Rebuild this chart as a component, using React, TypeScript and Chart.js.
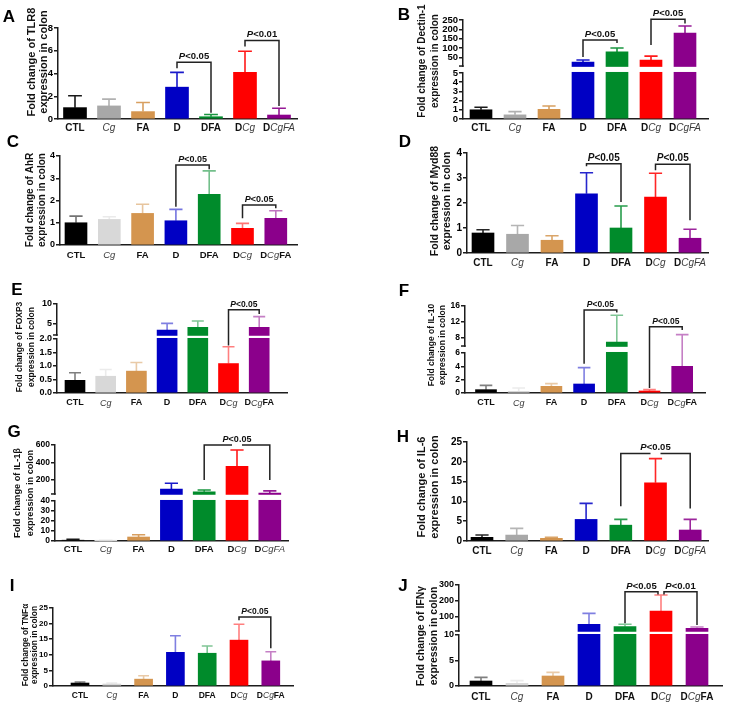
import React, { useEffect, useRef } from 'react';
import { Chart, registerables, LinearScale } from 'chart.js';

Chart.register(...registerables);

// A value scale that may be broken into several linear segments.
class BrokenScale extends LinearScale {
  static id = 'broken';
  static defaults = {};
  determineDataLimits() {
    const segs = (this as any).options.segments as number[][];
    (this as any).min = segs[0][0];
    (this as any).max = segs[segs.length - 1][1];
  }
  buildTicks() {
    return ((this as any).options.tickValues as number[]).map((v) => ({ value: v }));
  }
  getPixelForValue(value: number) {
    const segs = (this as any).options.segments as number[][];
    let s = segs[segs.length - 1];
    for (const sg of segs) {
      if (value <= sg[1]) { s = sg; break; }
    }
    const frac = s[2] + ((value - s[0]) / (s[1] - s[0])) * (s[3] - s[2]);
    const self = this as any;
    return self.bottom - frac * (self.bottom - self.top);
  }
  getValueForPixel(pixel: number) {
    const self = this as any;
    const segs = self.options.segments as number[][];
    const frac = (self.bottom - pixel) / (self.bottom - self.top);
    let s = segs[segs.length - 1];
    for (const sg of segs) {
      if (frac <= sg[3]) { s = sg; break; }
    }
    return s[0] + ((frac - s[2]) / (s[3] - s[2])) * (s[1] - s[0]);
  }
}
Chart.register(BrokenScale as any);

const FONT = "'Liberation Sans', Arial, Helvetica, sans-serif";
const AXIS = '#1c1c1c';

// ---------- categories ----------
const catsItalicTail = ['CTL', '*Cg*', 'FA', 'D', 'DFA', 'D*Cg*', 'D*CgFA*'];
const catsBoldTail = ['CTL', '*Cg*', 'FA', 'D', 'DFA', 'D*Cg*', 'D*Cg*FA'];

// ---------- A: TLR8 ----------
const tlr8Title = ['Fold change of TLR8', 'expression in colon'];
const tlr8Mean = [1.0, 1.15, 0.65, 2.8, 0.2, 4.1, 0.35];
const tlr8Sd = [1.05, 0.6, 0.8, 1.3, 0.2, 1.85, 0.6];
const tlr8Ticks = [0, 2, 4, 6, 8];
const tlr8Brackets = [
  { from: 3, to: 4, y: 5.0, legL: 4.47, legR: 0.56, text: '*P*<0.05' },
  { from: 5, to: 6, y: 6.91, legL: 6.38, legR: 1.15, text: '*P*<0.01' },
];

// ---------- B: Dectin-1 ----------
const dectinTitle = ['Fold change of Dectin-1', 'expression in colon'];
const dectinMean = [1.0, 0.45, 1.05, 26, 80, 37, 181];
const dectinSd = [0.28, 0.35, 0.36, 11, 21, 21, 37];
const dectinTicks = [0, 1, 2, 3, 4, 5, 50, 100, 150, 200, 250];
const dectinBrackets = [
  { from: 3, to: 4, y: 143, legL: 53, legR: 127, text: '*P*<0.05' },
  { from: 5, to: 6, y: 254, legL: 117, legR: 232, text: '*P*<0.05' },
];

// ---------- C: AhR ----------
const ahrTitle = ['Fold change of AhR', 'expression in colon'];
const ahrMean = [1.0, 1.15, 1.42, 1.09, 2.28, 0.75, 1.2];
const ahrSd = [0.3, 0.12, 0.41, 0.51, 1.05, 0.22, 0.34];
const ahrTicks = [0, 1, 2, 3, 4];
const ahrBrackets = [
  { from: 3, to: 4, y: 3.6, legL: 1.72, legR: 3.4, text: '*P*<0.05' },
  { from: 5, to: 6, y: 1.8, legL: 1.2, legR: 1.65, text: '*P*<0.05' },
];

// ---------- D: Myd88 ----------
const myd88Title = ['Fold change of Myd88', 'expression in colon'];
const myd88Mean = [0.8, 0.75, 0.51, 2.37, 1.0, 2.24, 0.59];
const myd88Sd = [0.13, 0.35, 0.18, 0.84, 0.88, 0.95, 0.36];
const myd88Ticks = [0, 1, 2, 3, 4];
const myd88Brackets = [
  { from: 3, to: 4, y: 3.57, legL: 3.47, legR: 2.04, text: '*P*<0.05' },
  { from: 5, to: 6, y: 3.55, legL: 3.31, legR: 1.31, text: '*P*<0.05' },
];

// ---------- E: FOXP3 ----------
const foxp3Title = ['Fold change of FOXP3', 'expression in colon'];
const foxp3Mean = [0.47, 0.62, 0.81, 3.25, 3.95, 1.09, 3.95];
const foxp3Sd = [0.28, 0.25, 0.32, 1.75, 1.65, 0.62, 2.8];
const foxp3Ticks = [0, 0.5, 1, 1.5, 2, 5, 10];
const foxp3TickLabels = ['0.0', '0.5', '1.0', '1.5', '2.0', '5', '10'];
const foxp3Brackets = [
  { from: 5, to: 6, y: 8.5, legL: 1.76, legR: 7.4, text: '*P*<0.05' },
];

// ---------- F: IL-10 ----------
const il10Title = ['Fold change of IL-10', 'expression in colon'];
const il10Mean = [0.5, 0.25, 1.0, 1.35, 7.0, 0.3, 4.0];
const il10Sd = [0.65, 0.5, 0.4, 2.45, 6.7, 0.2, 4.85];
const il10Ticks = [0, 2, 4, 6, 8, 12, 16];
const il10Brackets = [
  { from: 3, to: 4, y: 15.0, legL: 4.4, legR: 14.4, text: '*P*<0.05' },
  { from: 5, to: 6, y: 10.8, legL: 0.75, legR: 10.0, text: '*P*<0.05' },
];

// ---------- G: IL-1β ----------
const il1bTitle = ['Fold change of IL-1β', 'expression in colon'];
const il1bMean = [0.8, 0.3, 4.0, 95, 65, 355, 50];
const il1bSd = [0.9, 0.2, 2.3, 68, 21, 188, 25];
const il1bTicks = [0, 10, 20, 30, 40, 200, 400, 600];
const il1bBrackets = [
  { from: 4, to: 6, y: 600, legL: 200, legR: 200, text: '*P*<0.05', textAt: 5, gapAt: 5 },
];

// ---------- H: IL-6 ----------
const il6Title = ['Fold change of IL-6', 'expression in colon'];
const il6Mean = [0.92, 1.5, 0.67, 5.45, 4.0, 14.7, 2.77];
const il6Sd = [0.58, 1.7, 0.25, 4.05, 1.45, 6.1, 2.68];
const il6Ticks = [0, 5, 10, 15, 20, 25];
const il6Brackets = [
  { from: 4, to: 6, y: 22.1, legL: 8.8, legR: 8.2, text: '*P*<0.05', textAt: 5, gapAt: 5 },
];

// ---------- I: TNFα ----------
const tnfTitle = ['Fold change of TNFα', 'expression in colon'];
const tnfMean = [0.95, 0.64, 2.2, 10.8, 10.5, 14.7, 8.05];
const tnfSd = [0.32, 0.31, 1.1, 5.3, 2.3, 5.1, 2.95];
const tnfTicks = [0, 5, 10, 15, 20, 25];
const tnfBrackets = [
  { from: 5, to: 6, y: 22.1, legL: 21.1, legR: 12.1, text: '*P*<0.05' },
];

// ---------- J: IFNγ ----------
const ifngTitle = ['Fold change of IFNγ', 'expression in colon'];
const ifngMean = [0.98, 0.52, 1.96, 52, 37, 136, 26];
const ifngSd = [0.72, 0.53, 0.72, 69, 15, 101, 9];
const ifngTicks = [0, 5, 10, 100, 200, 300];
const ifngBrackets = [
  { from: 4, to: 5, y: 258, legL: 58, legR: 240, text: '*P*<0.05', inR: 3 },
  { from: 5, to: 6, y: 258, legL: 240, legR: 48, text: '*P*<0.01', inL: 3 },
];

// ---------- styles ----------
const barColorsDark = ['#000000', '#a8a8a8', '#d4954f', '#0000c4', '#008b2b', '#ff0000', '#8b008b'];
const barColorsLight = ['#000000', '#d8d8d8', '#d4954f', '#0000c4', '#008b2b', '#ff0000', '#8b008b'];

type Bracket = {
  from: number; to: number; y: number; legL: number; legR: number; text: string;
  textAt?: number; gapAt?: number; inL?: number; inR?: number;
};
type Panel = {
  letter: string; lx: number; ly: number;
  box: number[];
  axisX: number; axisR: number; c0: number; step: number; top: number; bottom: number;
  barW: number; labelY: number;
  title: string[]; titleX: number[]; titleY: number; titleSize: number;
  tickSize: number; catSize: number; pSize: number;
  cats: string[]; mean: number[]; sd: number[];
  ticks: number[]; tickLabels?: string[];
  segs: number[][];
  colors: string[]; errAlpha: number;
  brackets: Bracket[];
};

const L = 0, R = 362, LW = 362, RW = 367;

const panels: Panel[] = [
  { letter: 'A', lx: 9, ly: 16, box: [L, 0, LW, 136], axisX: 58, axisR: 297, c0: 75, step: 34, top: 28, bottom: 119, barW: 23, labelY: 128,
    title: tlr8Title, titleX: [32, 44], titleY: 62, titleSize: 11, tickSize: 9.5, catSize: 10, pSize: 9.5,
    cats: catsItalicTail, mean: tlr8Mean, sd: tlr8Sd, ticks: tlr8Ticks, segs: [[0, 8, 0, 1]], colors: barColorsDark, errAlpha: 0.9, brackets: tlr8Brackets },
  { letter: 'B', lx: 404, ly: 14, box: [R, 0, RW, 136], axisX: 463, axisR: 708, c0: 481, step: 34, top: 20, bottom: 119, barW: 22, labelY: 128,
    title: dectinTitle, titleX: [422, 435], titleY: 61, titleSize: 10, tickSize: 9.5, catSize: 10, pSize: 9.5,
    cats: catsItalicTail, mean: dectinMean, sd: dectinSd, ticks: dectinTicks, segs: [[0, 5, 0, 0.465], [5, 250, 0.535, 1]], colors: barColorsDark, errAlpha: 0.9, brackets: dectinBrackets },
  { letter: 'C', lx: 13, ly: 141, box: [L, 136, LW, 136], axisX: 60, axisR: 297, c0: 76, step: 33.3, top: 156, bottom: 245, barW: 22, labelY: 255,
    title: ahrTitle, titleX: [30, 42], titleY: 200, titleSize: 10, tickSize: 9, catSize: 9.5, pSize: 9,
    cats: catsBoldTail, mean: ahrMean, sd: ahrSd, ticks: ahrTicks, segs: [[0, 4, 0, 1]], colors: barColorsLight, errAlpha: 0.55, brackets: ahrBrackets },
  { letter: 'D', lx: 405, ly: 141, box: [R, 136, RW, 136], axisX: 467, axisR: 708, c0: 483, step: 34.5, top: 153, bottom: 253, barW: 22, labelY: 263,
    title: myd88Title, titleX: [435, 447], titleY: 201, titleSize: 10.5, tickSize: 10, catSize: 10, pSize: 10,
    cats: catsItalicTail, mean: myd88Mean, sd: myd88Sd, ticks: myd88Ticks, segs: [[0, 4, 0, 1]], colors: barColorsDark, errAlpha: 0.85, brackets: myd88Brackets },
  { letter: 'E', lx: 17, ly: 289, box: [L, 272, LW, 144], axisX: 57, axisR: 287, c0: 75, step: 30.7, top: 304, bottom: 393, barW: 20, labelY: 403,
    title: foxp3Title, titleX: [20, 32], titleY: 347, titleSize: 8.5, tickSize: 9, catSize: 9, pSize: 8.5,
    cats: catsBoldTail, mean: foxp3Mean, sd: foxp3Sd, ticks: foxp3Ticks, tickLabels: foxp3TickLabels, segs: [[0, 2, 0, 0.607], [2, 10, 0.652, 1]], colors: barColorsLight, errAlpha: 0.5, brackets: foxp3Brackets },
  { letter: 'F', lx: 404, ly: 290, box: [R, 272, RW, 144], axisX: 465, axisR: 705, c0: 486, step: 32.7, top: 306, bottom: 393, barW: 21, labelY: 403,
    title: il10Title, titleX: [432, 443], titleY: 345, titleSize: 8.5, tickSize: 8.5, catSize: 9, pSize: 8.5,
    cats: catsBoldTail, mean: il10Mean, sd: il10Sd, ticks: il10Ticks, segs: [[0, 6, 0, 0.46], [6, 16, 0.54, 1]], colors: barColorsLight, errAlpha: 0.5, brackets: il10Brackets },
  { letter: 'G', lx: 14, ly: 431, box: [L, 416, LW, 146], axisX: 55, axisR: 288, c0: 73, step: 32.8, top: 445, bottom: 541, barW: 22, labelY: 549,
    title: il1bTitle, titleX: [17, 30], titleY: 493, titleSize: 9.2, tickSize: 8.5, catSize: 9.5, pSize: 9,
    cats: catsItalicTail, mean: il1bMean, sd: il1bSd, ticks: il1bTicks, segs: [[0, 40, 0, 0.417], [40, 600, 0.49, 1]], colors: barColorsLight, errAlpha: 0.9, brackets: il1bBrackets },
  { letter: 'H', lx: 403, ly: 436, box: [R, 416, RW, 146], axisX: 467, axisR: 708, c0: 482, step: 34.7, top: 442, bottom: 541, barW: 22, labelY: 551,
    title: il6Title, titleX: [422, 435], titleY: 487, titleSize: 11, tickSize: 10, catSize: 10, pSize: 9.5,
    cats: catsItalicTail, mean: il6Mean, sd: il6Sd, ticks: il6Ticks, segs: [[0, 25, 0, 1]], colors: barColorsDark, errAlpha: 0.85, brackets: il6Brackets },
  { letter: 'I', lx: 12, ly: 585, box: [L, 562, LW, 149], axisX: 53, axisR: 293, c0: 80, step: 31.8, top: 608, bottom: 686, barW: 18, labelY: 696,
    title: tnfTitle, titleX: [26, 35], titleY: 645, titleSize: 8.3, tickSize: 8, catSize: 8.5, pSize: 8.5,
    cats: catsBoldTail, mean: tnfMean, sd: tnfSd, ticks: tnfTicks, segs: [[0, 25, 0, 1]], colors: barColorsLight, errAlpha: 0.5, brackets: tnfBrackets },
  { letter: 'J', lx: 403, ly: 585, box: [R, 562, RW, 149], axisX: 459, axisR: 722, c0: 481, step: 36, top: 585, bottom: 686, barW: 22, labelY: 697,
    title: ifngTitle, titleX: [421, 434], titleY: 636, titleSize: 10.5, tickSize: 9, catSize: 10, pSize: 9.5,
    cats: catsBoldTail, mean: ifngMean, sd: ifngSd, ticks: ifngTicks, segs: [[0, 10, 0, 0.505], [10, 300, 0.545, 1]], colors: barColorsLight, errAlpha: 0.5, brackets: ifngBrackets },
];

function toRgba(hex: string, a: number) {
  const n = parseInt(hex.slice(1), 16);
  return `rgba(${(n >> 16) & 255},${(n >> 8) & 255},${n & 255},${a})`;
}

function runs(label: string) {
  return label.split('*').map((t, i) => ({ t, it: i % 2 === 1 })).filter((r) => r.t.length > 0);
}

function drawRuns(ctx: CanvasRenderingContext2D, label: string, x: number, y: number, size: number, italicBold: boolean) {
  const parts = runs(label);
  const fontOf = (it: boolean) => (it ? `${italicBold ? 'bold ' : ''}italic ${size}px ${FONT}` : `bold ${size}px ${FONT}`);
  const widths = parts.map((r) => { ctx.font = fontOf(r.it); return ctx.measureText(r.t).width; });
  const total = widths.reduce((a, b) => a + b, 0);
  let cx = x - total / 2;
  ctx.textAlign = 'left';
  parts.forEach((r, k) => {
    ctx.font = fontOf(r.it);
    ctx.fillStyle = r.it && !italicBold ? '#3c3c3c' : '#111';
    ctx.fillText(r.t, cx, y);
    cx += widths[k];
  });
}

function decoPlugin(p: Panel) {
  return {
    id: 'panelDeco',
    afterDraw(chart: any) {
      const ctx: CanvasRenderingContext2D = chart.ctx;
      const ys = chart.scales.y;
      const xs = chart.scales.x;
      const area = chart.chartArea;
      ctx.save();
      // axis break
      if (p.segs.length > 1) {
        const h = ys.bottom - ys.top;
        const yLowTop = ys.bottom - p.segs[0][3] * h;
        const yUpBot = ys.bottom - p.segs[1][2] * h;
        ctx.fillStyle = '#ffffff';
        ctx.fillRect(area.left - 3, yUpBot + 0.8, area.right - area.left + 3, yLowTop - yUpBot - 1.8);
        ctx.strokeStyle = AXIS;
        ctx.lineWidth = 1.5;
        ctx.beginPath();
        ctx.moveTo(area.left - 4, yUpBot);
        ctx.lineTo(area.left + 0.75, yUpBot);
        ctx.stroke();
      }
      // error bars
      const meta = chart.getDatasetMeta(0);
      p.mean.forEach((v, i) => {
        const bar = meta.data[i];
        const x = bar.x;
        const yv = ys.getPixelForValue(v);
        const ye = ys.getPixelForValue(v + p.sd[i]);
        const cap = p.barW * 0.6;
        ctx.strokeStyle = toRgba(p.colors[i], p.errAlpha);
        ctx.lineWidth = 1.6;
        ctx.beginPath();
        ctx.moveTo(x, yv);
        ctx.lineTo(x, ye);
        ctx.moveTo(x - cap / 2, ye);
        ctx.lineTo(x + cap / 2, ye);
        ctx.stroke();
      });
      // significance brackets
      p.brackets.forEach((b) => {
        const x1 = xs.getPixelForValue(b.from) + (b.inL || 0);
        const x2 = xs.getPixelForValue(b.to) - (b.inR || 0);
        const yl = ys.getPixelForValue(b.y);
        const y1 = ys.getPixelForValue(b.legL);
        const y2 = ys.getPixelForValue(b.legR);
        ctx.strokeStyle = '#222';
        ctx.lineWidth = 1.5;
        ctx.beginPath();
        ctx.moveTo(x1, y1);
        ctx.lineTo(x1, yl);
        if (b.gapAt !== undefined) {
          const gx = xs.getPixelForValue(b.gapAt);
          ctx.lineTo(gx - 5, yl);
          ctx.moveTo(gx + 5, yl);
        }
        ctx.lineTo(x2, yl);
        ctx.lineTo(x2, y2);
        ctx.stroke();
        const tx = b.textAt !== undefined ? xs.getPixelForValue(b.textAt) : (x1 + x2) / 2;
        ctx.textBaseline = 'alphabetic';
        drawRuns(ctx, b.text, tx, yl - 3, p.pSize, true);
      });
      // category labels
      ctx.textBaseline = 'middle';
      p.cats.forEach((c, i) => {
        drawRuns(ctx, c, meta.data[i].x, p.labelY - p.box[1], p.catSize, false);
      });
      // y-axis title
      ctx.fillStyle = '#111';
      ctx.font = `bold ${p.titleSize}px ${FONT}`;
      ctx.textAlign = 'center';
      ctx.textBaseline = 'middle';
      p.title.forEach((line, k) => {
        ctx.save();
        ctx.translate(p.titleX[k] - p.box[0], p.titleY - p.box[1]);
        ctx.rotate(-Math.PI / 2);
        ctx.fillText(line, 0, 0);
        ctx.restore();
      });
      ctx.restore();
    },
  };
}

const YW = 24;

function PanelChart({ p }: { p: Panel }) {
  const ref = useRef<HTMLCanvasElement>(null);
  const [bx, by, bw, bh] = p.box;
  useEffect(() => {
    const labels = p.tickLabels || p.ticks.map((t) => String(t));
    const chart = new Chart(ref.current as HTMLCanvasElement, {
      type: 'bar',
      data: {
        datasets: [{
          data: p.mean.map((v, i) => ({ x: i, y: v })) as any,
          backgroundColor: p.colors,
          barThickness: p.barW,
          borderWidth: 0,
        }],
      },
      options: {
        responsive: false,
        animation: false,
        events: [],
        layout: {
          padding: {
            left: p.axisX - bx - YW,
            right: bx + bw - p.axisR,
            top: p.top - by,
            bottom: by + bh - p.bottom,
          },
        },
        plugins: { legend: { display: false }, tooltip: { enabled: false }, title: { display: false } },
        scales: {
          x: {
            type: 'linear',
            min: (p.axisX - p.c0) / p.step,
            max: (p.axisR - p.c0) / p.step,
            offset: false,
            bounds: 'data',
            grid: { display: false },
            ticks: { display: false },
            border: { display: true, color: AXIS, width: 1.5 },
            afterFit: (s: any) => { s.height = 0; },
          },
          y: {
            type: 'broken',
            segments: p.segs,
            tickValues: p.ticks,
            grid: { display: true, drawOnChartArea: false, drawTicks: true, tickLength: 4, color: AXIS, lineWidth: 1.5 },
            border: { display: true, color: AXIS, width: 1.5 },
            ticks: {
              autoSkip: false,
              padding: 1,
              color: '#000',
              font: { family: FONT, size: p.tickSize, weight: 'bold' },
              callback: (_v: any, i: number) => labels[i],
            },
            afterFit: (s: any) => { s.width = YW; },
          } as any,
        },
      } as any,
      plugins: [decoPlugin(p) as any],
    });
    return () => chart.destroy();
  }, [p]);
  return (
    <canvas
      ref={ref}
      width={bw}
      height={bh}
      style={{ position: 'absolute', left: bx, top: by, width: bw, height: bh }}
    />
  );
}

export default function App() {
  return (
    <div style={{ position: 'absolute', left: 0, top: 0, width: 729, height: 711, background: '#fff', overflow: 'hidden' }}>
      {panels.map((p) => (
        <PanelChart key={p.letter} p={p} />
      ))}
      {panels.map((p) => (
        <div
          key={'l' + p.letter}
          style={{
            position: 'absolute', left: p.lx, top: p.ly, transform: 'translate(-50%, -50%)',
            font: `bold 17px ${FONT}`, lineHeight: '17px', color: '#000', zIndex: 2,
          }}
        >
          {p.letter}
        </div>
      ))}
    </div>
  );
}
